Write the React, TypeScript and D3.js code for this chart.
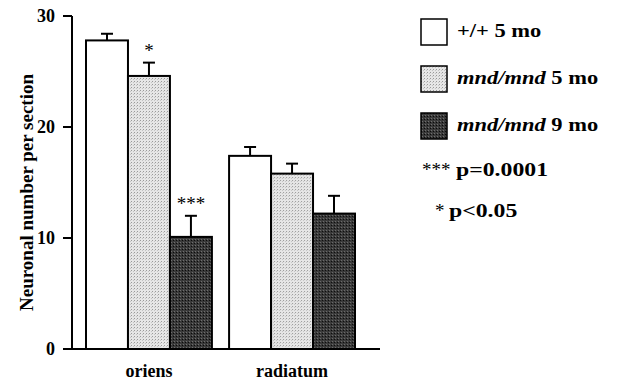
import React from 'react'
import { scaleLinear, scaleBand } from 'd3'

const categories = ['oriens', 'radiatum']
const seriesNames = ['+/+ 5 mo', 'mnd/mnd 5 mo', 'mnd/mnd 9 mo']
const wt5mo = [27.8, 17.4]
const wt5moErr = [0.6, 0.8]
const mnd5mo = [24.6, 15.8]
const mnd5moErr = [1.2, 0.9]
const mnd9mo = [10.1, 12.2]
const mnd9moErr = [1.9, 1.6]
const stars = [['', '*', '***'], ['', '', '']]
const yTicks = [0, 10, 20, 30]
const sigLabels = [['***', 'p=0.0001'], ['*', 'p<0.05']]

const values = [wt5mo, mnd5mo, mnd9mo]
const errors = [wt5moErr, mnd5moErr, mnd9moErr]
const fills = ['#ffffff', 'url(#lightDots)', 'url(#darkDots)']

const W = 618
const H = 384
const axisX = 72
const font = '"Liberation Serif", "Times New Roman", serif'

const y = scaleLinear().domain([0, 30]).range([349, 16])
const x0 = scaleBand().domain(categories).range([86, 355]).paddingInner(0.12)
const x1 = scaleBand().domain(seriesNames).range([0, x0.bandwidth()])

const LegendText = ({ name, tx, ty }) => {
  const parts = name.split(' ')
  const italic = parts[0].startsWith('mnd')
  return (
    <text transform={`translate(${tx},${ty}) scale(1.25,1)`} fontSize={18} fontWeight="bold" fontFamily={font}>
      {italic ? <tspan fontStyle="italic">{parts[0]}</tspan> : parts[0]}
      {' ' + parts.slice(1).join(' ')}
    </text>
  )
}

const App = () => {
  return (
    <svg width={W} height={H} style={{ position: 'absolute', left: 0, top: 0, background: '#fff' }}>
      <defs>
        <pattern id="lightDots" width={3} height={3} patternUnits="userSpaceOnUse">
          <rect width={3} height={3} fill="#e6e6e6" />
          <rect width={1} height={1} fill="#9a9a9a" />
          <rect x={2} y={1} width={1} height={1} fill="#c4c4c4" />
        </pattern>
        <pattern id="darkDots" width={3} height={3} patternUnits="userSpaceOnUse">
          <rect width={3} height={3} fill="#3a3a3a" />
          <rect width={1} height={1} fill="#0a0a0a" />
          <rect x={1} y={2} width={1} height={1} fill="#6e6e6e" />
        </pattern>
      </defs>

      {/* bars */}
      {categories.map((c, ci) => (
        <g key={c} transform={`translate(${x0(c)},0)`}>
          {seriesNames.map((s, si) => {
            const v = values[si][ci]
            const e = errors[si][ci]
            const bx = x1(s)
            const bw = x1.bandwidth()
            const cx = bx + bw / 2
            return (
              <g key={s}>
                <line x1={cx} x2={cx} y1={y(v)} y2={y(v + e)} stroke="#000" strokeWidth={2} />
                <line x1={cx - 6} x2={cx + 6} y1={y(v + e)} y2={y(v + e)} stroke="#000" strokeWidth={2} />
                <rect x={bx} y={y(v)} width={bw} height={y(0) - y(v)} fill={fills[si]} stroke="#000" strokeWidth={2} />
                {stars[ci][si] && (
                  <text x={cx} y={y(v + e) - 6} textAnchor="middle" fontSize={19} fontFamily={font} fill="#000">
                    {stars[ci][si]}
                  </text>
                )}
              </g>
            )
          })}
          <text x={x0.bandwidth() / 2} y={377} textAnchor="middle" fontSize={18} fontWeight="bold" fontFamily={font}>
            {c}
          </text>
        </g>
      ))}

      {/* axes */}
      <line x1={axisX} x2={axisX} y1={y(30)} y2={y(0)} stroke="#000" strokeWidth={2} />
      <line x1={axisX - 9} x2={380} y1={y(0)} y2={y(0)} stroke="#000" strokeWidth={2} />
      {yTicks.map(t => (
        <g key={t}>
          <line x1={axisX - 9} x2={axisX} y1={y(t)} y2={y(t)} stroke="#000" strokeWidth={2} />
          <text x={axisX - 17} y={y(t)} dy="0.34em" textAnchor="end" fontSize={18} fontWeight="bold" fontFamily={font}>
            {t}
          </text>
        </g>
      ))}
      <text transform={`translate(33,${(y(0) + y(30)) / 2 + 10}) rotate(-90)`} textAnchor="middle" fontSize={19} fontWeight="bold" fontFamily={font}>
        Neuronal number per section
      </text>

      {/* legend */}
      {seriesNames.map((s, i) => (
        <g key={s} transform={`translate(421,${19 + i * 47})`}>
          <rect x={0} y={0} width={26} height={26} fill={fills[i]} stroke="#000" strokeWidth={1.5} />
          <LegendText name={s} tx={36} ty={18} />
        </g>
      ))}
      {sigLabels.map(([st, p], i) => (
        <g key={p}>
          <text x={i === 0 ? 422 : 435} y={176 + i * 41} fontSize={19} fontFamily={font}>{st}</text>
          <text transform={`translate(${i === 0 ? 456 : 449},${176 + i * 41}) scale(1.25,1)`} fontSize={19} fontWeight="bold" fontFamily={font}>
            {p}
          </text>
        </g>
      ))}
    </svg>
  )
}

export default App
